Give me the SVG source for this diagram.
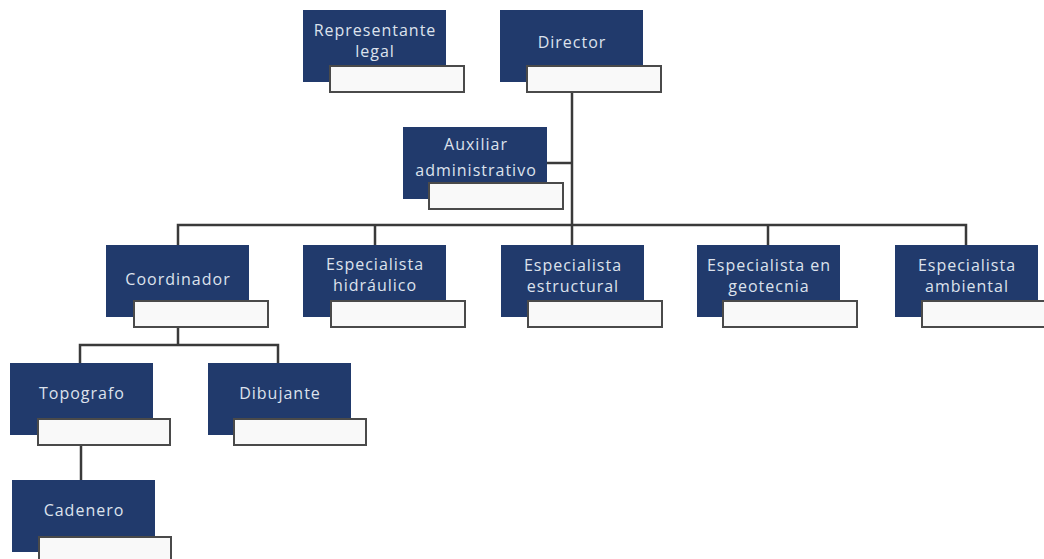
<svg xmlns="http://www.w3.org/2000/svg" width="1044" height="559" viewBox="0 0 1044 559">
<style>
.box{fill:#213a6c;}
.sub{fill:#f9f9f9;stroke:#4a4a4a;stroke-width:2;}
.t{font-family:"Open Sans","Liberation Sans",sans-serif;font-size:16px;letter-spacing:1px;fill:#dde2ec;text-anchor:middle;}
.c{fill:none;stroke:#3a3a3a;stroke-width:2.5;}
</style>
<rect width="1044" height="559" fill="#ffffff"/>
<g id="connectors">
<path class="c" d="M572 93 V225"/>
<path class="c" d="M547 163 H572"/>
<path class="c" d="M178 245 V225 H966 V245"/>
<path class="c" d="M375 225 V245 M572 225 V245 M768 225 V245"/>
<path class="c" d="M178 327 V345"/>
<path class="c" d="M80 363 V345 H278 V363"/>
<path class="c" d="M81 445 V480"/>
</g>
<g id="representante">
<rect class="box" x="303" y="10" width="143" height="72"/>
<rect class="sub" x="330" y="66" width="134" height="26"/>
<text class="t" x="375" y="36">Representante</text>
<text class="t" x="375" y="57">legal</text>
</g>
<g id="director">
<rect class="box" x="500" y="10" width="143" height="72"/>
<rect class="sub" x="527" y="66" width="134" height="26"/>
<text class="t" x="572" y="48">Director</text>
</g>
<g id="auxiliar">
<rect class="box" x="403" y="127" width="144" height="72"/>
<rect class="sub" x="429" y="183" width="134" height="26"/>
<text class="t" x="476" y="150">Auxiliar</text>
<text class="t" x="476" y="176">administrativo</text>
</g>
<g id="coordinador">
<rect class="box" x="106" y="245" width="143" height="72"/>
<rect class="sub" x="134" y="301" width="134" height="26"/>
<text class="t" x="178" y="285">Coordinador</text>
</g>
<g id="hidraulico">
<rect class="box" x="303" y="245" width="143" height="72"/>
<rect class="sub" x="331" y="301" width="134" height="26"/>
<text class="t" x="375" y="270">Especialista</text>
<text class="t" x="375" y="291">hidráulico</text>
</g>
<g id="estructural">
<rect class="box" x="501" y="245" width="143" height="72"/>
<rect class="sub" x="528" y="301" width="134" height="26"/>
<text class="t" x="573" y="271">Especialista</text>
<text class="t" x="573" y="292">estructural</text>
</g>
<g id="geotecnia">
<rect class="box" x="697" y="245" width="143" height="72"/>
<rect class="sub" x="723" y="301" width="134" height="26"/>
<text class="t" x="769" y="271">Especialista en</text>
<text class="t" x="769" y="292">geotecnia</text>
</g>
<g id="ambiental">
<rect class="box" x="895" y="245" width="143" height="72"/>
<rect class="sub" x="922" y="301" width="134" height="26"/>
<text class="t" x="967" y="271">Especialista</text>
<text class="t" x="967" y="292">ambiental</text>
</g>
<g id="topografo">
<rect class="box" x="10" y="363" width="143" height="72"/>
<rect class="sub" x="38" y="419" width="132" height="26"/>
<text class="t" x="82" y="399">Topografo</text>
</g>
<g id="dibujante">
<rect class="box" x="208" y="363" width="143" height="72"/>
<rect class="sub" x="234" y="419" width="132" height="26"/>
<text class="t" x="280" y="399">Dibujante</text>
</g>
<g id="cadenero">
<rect class="box" x="12" y="480" width="143" height="72"/>
<rect class="sub" x="39" y="537" width="132" height="26"/>
<text class="t" x="84" y="516">Cadenero</text>
</g>
</svg>
